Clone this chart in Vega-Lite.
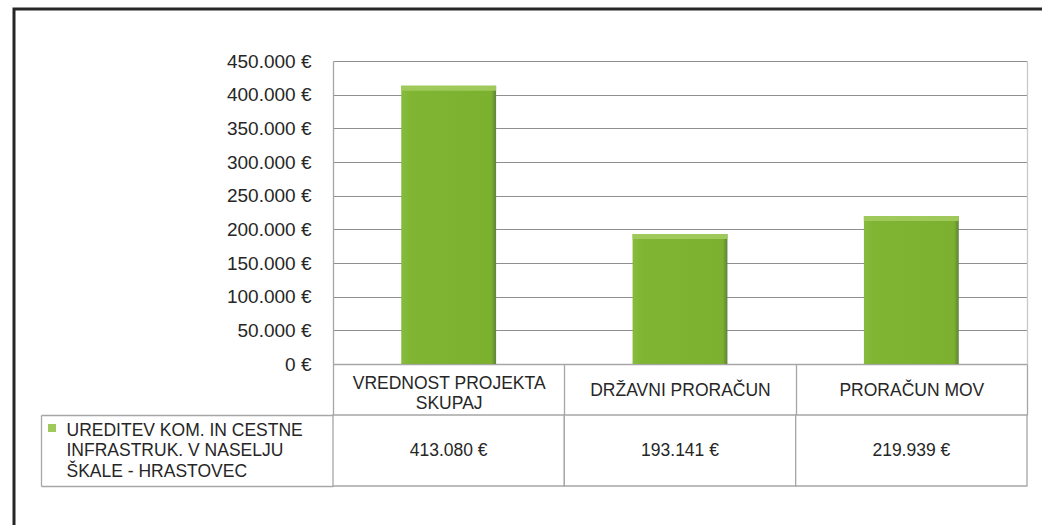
{
  "$schema": "https://vega.github.io/schema/vega-lite/v6.json",
  "width": 1032,
  "height": 520,
  "autosize": {"type": "none"},
  "padding": {"left": 14, "top": 9, "right": -4, "bottom": -4},
  "background": "white",
  "config": {
    "font": "Liberation Sans",
    "view": {"stroke": "#262626", "strokeWidth": 3},
    "locale": {"number": {"decimal": ",", "thousands": ".", "grouping": [3], "currency": ["", " €"]}}
  },
  "data": {
    "values": [
      {"postavka": "VREDNOST PROJEKTA SKUPAJ", "projekt": "UREDITEV KOM. IN CESTNE INFRASTRUK. V NASELJU ŠKALE - HRASTOVEC", "znesek": 413080},
      {"postavka": "DRŽAVNI PRORAČUN", "projekt": "UREDITEV KOM. IN CESTNE INFRASTRUK. V NASELJU ŠKALE - HRASTOVEC", "znesek": 193141},
      {"postavka": "PRORAČUN MOV", "projekt": "UREDITEV KOM. IN CESTNE INFRASTRUK. V NASELJU ŠKALE - HRASTOVEC", "znesek": 219939}
    ]
  },
  "encoding": {
    "x": {
      "field": "postavka",
      "type": "nominal",
      "sort": null,
      "scale": {"type": "band", "range": [319, 1013], "paddingInner": 0, "paddingOuter": 0},
      "axis": {
        "orient": "bottom",
        "offset": -165,
        "title": null,
        "tickBand": "extent",
        "tickSize": 51,
        "tickColor": "#a6a6a6",
        "tickWidth": 1.3,
        "domain": true,
        "domainColor": "#a6a6a6",
        "domainWidth": 1.3,
        "grid": false,
        "labelAngle": 0,
        "labelFontSize": 17.5,
        "labelColor": "#262626",
        "labelBaseline": "middle",
        "labelPadding": {"condition": {"test": "datum.value == 'VREDNOST PROJEKTA SKUPAJ'", "value": -32}, "value": -25},
        "labelLineHeight": 20.5,
        "labelLimit": 400,
        "labelExpr": "split(replace(datum.label, 'PROJEKTA ', 'PROJEKTA|'), '|')"
      }
    }
  },
  "layer": [
    {
      "mark": {
        "type": "bar",
        "width": {"band": 0.41},
        "color": {
          "gradient": "linear",
          "x1": 0, "x2": 1, "y1": 0, "y2": 0,
          "stops": [
            {"offset": 0, "color": "#87bb3d"},
            {"offset": 0.1, "color": "#80b533"},
            {"offset": 0.95, "color": "#7bb12e"},
            {"offset": 1, "color": "#5f813c"}
          ]
        }
      },
      "encoding": {
        "y": {
          "field": "znesek",
          "type": "quantitative",
          "scale": {"domain": [0, 450000], "range": [355, 52], "nice": false},
          "axis": {
            "orient": "left",
            "offset": -319,
            "title": null,
            "values": [0, 50000, 100000, 150000, 200000, 250000, 300000, 350000, 400000, 450000],
            "format": "$,.0f",
            "grid": true,
            "gridColor": "#8f8f8f",
            "gridWidth": 1,
            "domain": true,
            "domainColor": "#a6a6a6",
            "domainWidth": 1.3,
            "ticks": false,
            "labelPadding": 22,
            "labelFontSize": 19,
            "labelColor": "#262626",
            "labelBaseline": "middle"
          }
        }
      }
    },
    {
      "mark": {"type": "tick", "size": 95, "thickness": 5, "yOffset": 2.5, "opacity": 1},
      "encoding": {
        "y": {
          "field": "znesek",
          "type": "quantitative",
          "scale": {"domain": [0, 450000], "range": [355, 52], "nice": false},
          "axis": {
            "orient": "right",
            "offset": -19,
            "title": null,
            "ticks": false,
            "labels": false,
            "grid": false,
            "domain": true,
            "domainColor": "#c8c8c8",
            "domainWidth": 1.3
          }
        },
        "color": {
          "field": "projekt",
          "type": "nominal",
          "scale": {"range": ["#9fc95a"]},
          "legend": {
            "orient": "none",
            "legendX": 34,
            "legendY": 415,
            "title": null,
            "labelExpr": "''",
            "symbolType": "square",
            "symbolSize": 64,
            "symbolStrokeWidth": 0,
            "padding": 0,
            "labelFontSize": 8
          }
        }
      }
    },
    {
      "mark": {"type": "rect", "fill": "white", "stroke": "#a6a6a6", "strokeWidth": 1.3},
      "encoding": {
        "y": {
          "field": "projekt",
          "type": "nominal",
          "scale": {"type": "band", "range": [406, 477], "paddingInner": 0, "paddingOuter": 0},
          "axis": {
            "orient": "left",
            "offset": -319,
            "title": null,
            "tickBand": "extent",
            "tickSize": 292,
            "tickColor": "#a6a6a6",
            "tickWidth": 1.3,
            "domain": false,
            "grid": false,
            "labelAlign": "left",
            "labelBaseline": "middle",
            "labelPadding": -25,
            "labelOffset": -20.5,
            "labelFontSize": 17.5,
            "labelColor": "#262626",
            "labelLineHeight": 20.7,
            "labelLimit": 400,
            "labelExpr": "split(replace(replace(datum.label, 'CESTNE ', 'CESTNE|'), 'NASELJU ', 'NASELJU|'), '|')"
          }
        }
      }
    },
    {
      "mark": {"type": "text", "fontSize": 17.5, "color": "#262626", "align": "center", "baseline": "middle"},
      "encoding": {
        "y": {
          "field": "projekt",
          "type": "nominal",
          "scale": {"type": "band", "range": [406, 477], "paddingInner": 0, "paddingOuter": 0},
          "axis": {
            "orient": "left",
            "offset": -27,
            "title": null,
            "ticks": false,
            "labels": false,
            "grid": false,
            "domain": true,
            "domainColor": "#a6a6a6",
            "domainWidth": 1.3
          }
        },
        "text": {"field": "znesek", "type": "quantitative", "format": "$,.0f"}
      }
    }
  ],
  "resolve": {"scale": {"y": "independent"}}
}
